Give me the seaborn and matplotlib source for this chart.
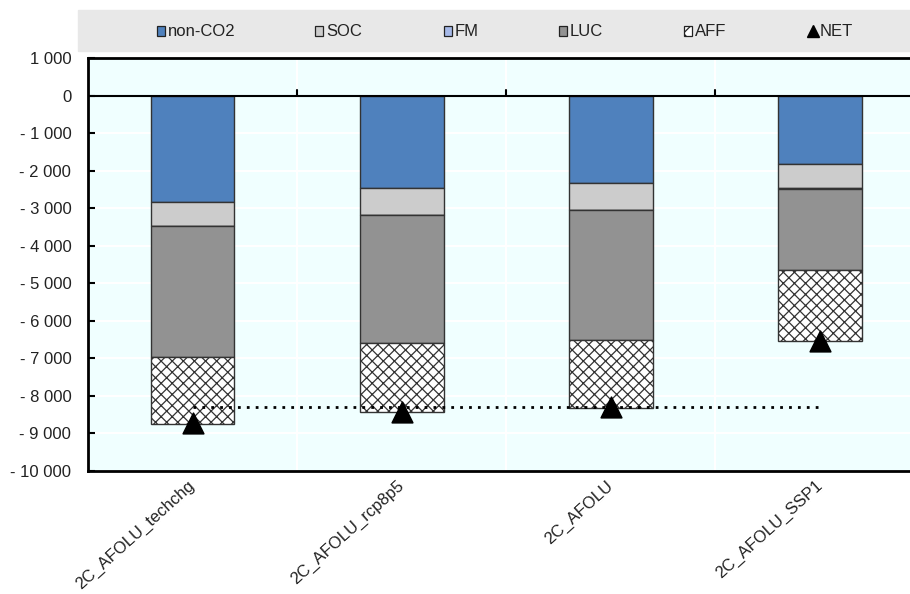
import matplotlib
matplotlib.use("Agg")
import matplotlib.pyplot as plt
from matplotlib.patches import Rectangle
from matplotlib.lines import Line2D
from matplotlib.ticker import FuncFormatter, MultipleLocator
import pandas as pd
import seaborn as sns

scenarios = ["2C_AFOLU_techchg", "2C_AFOLU_rcp8p5", "2C_AFOLU", "2C_AFOLU_SSP1"]
non_co2 = [-2834, -2460, -2326, -1834]
soc = [-650, -722, -722, -626]
fm = [0, 0, 0, -40]
luc = [-3468, -3422, -3457, -2142]
aff = [-1800, -1826, -1811, -1890]
net = [-8730, -8420, -8300, -6540]
ref_net = [-8290, -8290, -8290, -8290]

sns.set_theme(style="white")
plt.rcParams["font.family"] = ["Liberation Sans", "DejaVu Sans"]
plt.rcParams["hatch.linewidth"] = 0.9

df = pd.DataFrame({"scenario": scenarios, "non-CO2": non_co2, "SOC": soc,
                   "FM": fm, "LUC": luc, "AFF": aff, "NET": net, "ref": ref_net})

layers = [
    ("non-CO2", "#4f81bd", None),
    ("SOC", "#cccccc", None),
    ("FM", "#a6b9e8", None),
    ("LUC", "#929292", None),
    ("AFF", "white", "xxx"),
]

fig = plt.figure(figsize=(9.1, 5.94), dpi=100)
ax = fig.add_axes([88 / 910, 1 - 471 / 594, (910 - 88) / 910, (471 - 58) / 594])
ax.set_facecolor("#f0ffff")

# legend band
fig.patches.append(Rectangle((78 / 910, 1 - 51 / 594), 1, 41 / 594,
                             transform=fig.transFigure, color="#e8e8e8", zorder=0))

bottom = pd.Series([0.0] * len(df))
for name, color, hatch in layers:
    sns.barplot(data=df, x="scenario", y=name, order=scenarios, bottom=bottom.values,
                color=color, width=0.4, edgecolor="#333333", linewidth=1.0,
                hatch=hatch, saturation=1, ax=ax, zorder=3)
    bottom = bottom + df[name]

sns.lineplot(data=df, x="scenario", y="ref", ax=ax, color="black", linestyle=(0, (1, 2.2)),
             linewidth=2, zorder=4)
sns.scatterplot(data=df, x="scenario", y="NET", ax=ax, marker="^", s=220, color="black",
                edgecolor="black", zorder=5)

ax.axhline(0, color="black", lw=1.5, zorder=4)
for xb in [0.5, 1.5, 2.5]:
    ax.axvline(xb, color="white", lw=1.5, zorder=1)
    ax.plot([xb, xb], [0, 150], color="black", lw=1.5, zorder=4)

ax.set_xlim(-0.5, 3.43)
ax.set_ylim(-10000, 1000)
ax.yaxis.set_major_locator(MultipleLocator(1000))
ax.grid(axis="y", color="white", lw=1.5, zorder=1)
ax.set_axisbelow(True)


def fmt(v, pos):
    s = f"{abs(int(round(v))):,}".replace(",", " ")
    return "- " + s if v < 0 else s


ax.yaxis.set_major_formatter(FuncFormatter(fmt))
ax.tick_params(axis="y", direction="in", length=5, width=1.5, color="black",
               labelsize=12, pad=12, left=True, labelcolor="#222222")
ax.tick_params(axis="x", length=0, labelsize=12, pad=9, labelcolor="#222222")
plt.setp(ax.get_xticklabels(), rotation=42, ha="right", va="center", rotation_mode="anchor")
ax.set_xlabel("")
ax.set_ylabel("")
for side in ["left", "bottom", "top"]:
    ax.spines[side].set_visible(True)
    ax.spines[side].set_color("black")
    ax.spines[side].set_linewidth(2)
ax.spines["right"].set_visible(False)

# legend entries laid out along the band
legend_x = [161, 319, 448, 563, 688, 813]
ly = 1 - 31 / 594
W, H = fig.get_size_inches() * fig.dpi
for (name, color, hatch), lx in zip(layers, legend_x):
    fig.add_artist(Rectangle(((lx - 4) / W, ly - 5 / H), 8 / W, 10 / H, transform=fig.transFigure,
                             facecolor=color, edgecolor="#222222", lw=0.9, hatch=None if hatch is None else "xx"))
    fig.text((lx + 7) / W, ly, name, fontsize=12, va="center", ha="left", color="#222222")
fig.add_artist(Line2D([legend_x[-1] / W], [ly], marker="^", color="black", markersize=9,
                      linestyle="none", transform=fig.transFigure))
fig.text((legend_x[-1] + 7) / W, ly, "NET", fontsize=12, va="center", ha="left", color="#222222")

fig.savefig("out.png", dpi=100)
